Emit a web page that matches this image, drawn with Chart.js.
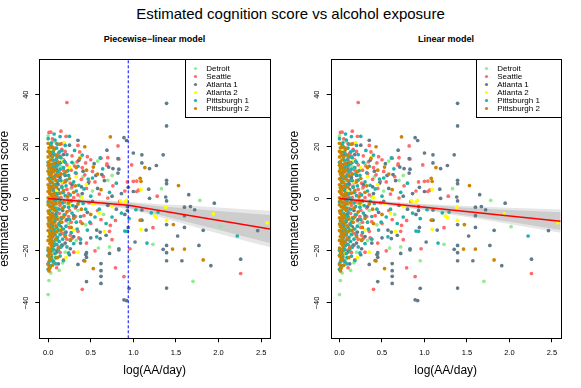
<!DOCTYPE html>
<html>
<head>
<meta charset="utf-8">
<script src="https://cdn.jsdelivr.net/npm/chart.js"></script>
<style>
  html, body { margin:0; padding:0; background:#fff; }
  body { width:581px; height:388px; position:relative; overflow:hidden; font-family:"Liberation Sans", Arial, sans-serif; }
  .t { position:absolute; white-space:nowrap; text-align:center; color:#000; }
  #mainTitle { left:0; width:581px; top:5.6px; font-size:15px; line-height:15px; }
  .sub { top:35px; font-size:9px; line-height:9px; font-weight:bold; }
  canvas { position:absolute; top:0; }
</style>
</head>
<body>
<div id="mainTitle" class="t">Estimated cognition score vs alcohol exposure</div>
<div class="t sub" style="left:39px;width:231px">Piecewise−linear model</div>
<div class="t sub" style="left:331px;width:230px">Linear model</div>
<canvas id="chartLeft" width="290" height="388" style="left:0"></canvas>
<canvas id="chartRight" width="291" height="388" style="left:290px"></canvas>
<script>
const cities = ["Detroit", "Seattle", "Atlanta 1", "Atlanta 2", "Pittsburgh 1", "Pittsburgh 2"];
const cityColors = ["#90EE90", "#FF6A6A", "#607B8B", "#FFFF00", "#20B2AA", "#CD8500"];

// [log(AA/day), score]
const detroit = [[0.0,24.2],[0.0,-36.8],[0.01,-31.4],[0.03,20.0],[0.08,22.0],[0.12,16.0],[0.05,12.5],[0.2,10.5],[0.1,7.0],[0.27,4.0],[0.16,-1.0],[0.35,-4.5],[0.06,-6.5],[0.24,-9.5],[0.44,-10.0],[0.12,-13.0],[0.33,-16.0],[0.04,-18.0],[0.2,-20.5],[0.08,-23.0],[0.52,3.0],[0.65,-6.0],[0.75,9.0],[0.58,14.5],[0.45,-21.5],[0.13,-27.5],[0.59,-18.9],[0.72,-18.5],[0.95,-23.8],[1.23,-17.5],[1.70,-31.7],[1.78,-0.6],[2.02,-10.7],[1.33,3.9],[0.02,2.0],[0.3,13.5],[0.18,-6.2],[0.38,0.8],[0.03,-28.5],[0.70,7.1],
  [0.06,16.8],[0.1,-2.4],[0.14,-8.0],[0.07,-16.0],[0.22,-1.8],[0.15,12.4],[0.05,-10.2],[0.17,-24.6],[0.41,8.4]];
const seattle = [[0.22,37.0],[0.01,25.5],[0.15,26.0],[0.03,25.6],[0.21,24.0],[0.1,21.2],[0.16,21.2],[0.05,23.0],[0.08,19.5],[0.03,17.0],[0.12,17.5],[0.18,15.0],[0.06,14.5],[0.22,13.0],[0.1,12.0],[0.27,11.0],[0.04,10.5],[0.15,9.5],[0.33,9.8],[0.08,8.0],[0.2,7.0],[0.39,7.5],[0.12,5.5],[0.28,4.5],[0.05,3.5],[0.45,4.0],[0.18,2.5],[0.55,6.5],[0.35,1.5],[0.09,0.5],[0.6,1.8],[0.23,-0.5],[0.48,-1.5],[0.14,-2.5],[0.7,0.3],[0.32,-3.5],[0.05,-4.0],[0.58,-4.5],[0.2,-6.0],[0.42,-6.5],[0.1,-7.5],[0.27,-9.0],[0.5,-9.5],[0.03,-10.0],[0.15,-11.5],[0.35,-12.5],[0.08,-14.0],[0.22,-15.5],[0.45,-17.0],[0.12,-18.5],[0.3,-20.5],[0.05,-21.5],[0.18,-23.5],[0.02,-26.0],[0.1,-26.5],[0.25,-11.0],[0.4,12.0],[0.52,10.5],[0.65,8.5],[0.76,5.0],[0.84,-1.0],[0.9,3.0],[0.37,18.0],[0.28,16.5],[0.5,15.0],[0.62,-8.0],[0.72,-12.5],[0.55,-20.0],[0.79,-8.3],[0.73,-10.2],[0.26,-14.0],[0.28,-15.2],[0.46,16.2],[0.62,15.6],[0.70,15.8],[0.83,15.3],[0.82,20.3],[0.98,13.0],[0.69,13.4],[0.69,12.9],[0.93,6.5],[1.04,6.8],[1.0,6.7],[1.04,2.8],[1.06,3.3],[1.28,1.0],[1.23,-11.1],[0.96,-19.2],[2.26,-28.7],[0.89,-29.9],[0.79,-26.5],[0.40,-34.8],[0.75,-15.7],[0.07,1.8],[0.13,-5.6],[0.17,6.2],[0.24,2.0],[0.11,14.2],[0.3,0.5],[0.19,-13.2],[0.09,-19.8],[0.38,-8.8],[0.43,9.2],[0.03,6.4],[0.04,-15.3],[0.16,19.0],[0.35,20.5],
  [0.04,20.2],[0.07,17.2],[0.1,15.4],[0.14,16.4],[0.06,11.2],[0.13,10.2],[0.09,9.4],[0.18,11.0],[0.04,8.2],[0.12,8.6],[0.16,4.8],[0.07,4.2],[0.22,3.6],[0.02,2.4],[0.1,1.2],[0.15,0.6],[0.06,-1.2],[0.19,-1.2],[0.11,-3.8],[0.25,-4.4],[0.04,-6.4],[0.15,-7.2],[0.08,-8.8],[0.21,-8.4],[0.12,-9.6],[0.06,-12.6],[0.16,-13.4],[0.11,-15.8],[0.07,-16.8],[0.17,-17.8],[0.04,-19.2],[0.14,-20.6],[0.07,-24.6],[0.24,-6.8],[0.26,6.0],[0.32,-6.8],[0.34,14.2],[0.2,18.2],[0.07,-20.0],[0.31,12.6],[0.44,13.8],[0.36,-15.0],[0.48,6.6]];
const atlanta1 = [[1.39,36.7],[1.39,28.0],[0.35,22.5],[0.25,20.6],[0.89,23.5],[0.92,22.4],[0.69,18.7],[1.00,17.6],[1.10,16.9],[1.35,16.9],[1.10,13.8],[1.19,11.6],[1.27,12.8],[0.76,11.6],[0.83,11.4],[0.82,15.4],[0.82,9.9],[0.63,9.3],[0.54,13.5],[0.41,10.6],[0.56,9.0],[0.71,12.2],[1.39,7.1],[1.39,5.8],[0.94,4.4],[1.0,2.8],[1.18,3.7],[1.38,0.7],[1.39,-0.8],[1.19,0.2],[1.65,1.6],[1.95,-1.7],[1.60,-3.2],[1.67,-3.0],[1.72,-4.2],[1.10,-4.3],[1.60,-6.5],[1.10,-8.2],[1.39,-9.9],[1.60,-11.0],[1.82,-12.1],[2.46,-12.2],[1.15,-12.0],[0.94,-11.0],[1.52,-14.3],[1.02,-16.6],[1.35,-19.4],[1.39,-17.9],[1.39,-20.7],[1.77,-17.9],[0.83,-19.2],[0.83,-19.6],[1.39,-23.8],[1.57,-23.8],[2.26,-23.2],[1.91,-25.7],[1.39,-34.3],[0.95,-34.4],[0.89,-38.8],[0.92,-39.1],[0.62,-24.9],[0.62,-27.6],[0.62,-29.8],[0.62,-32.5],[0.45,-20.7],[0.45,-22.5],[0.45,-31.8],[0.61,-12.8],[0.61,-15.3],[0.42,-23.7],[0.44,-21.4],[0.35,-25.2],[0.26,-19.2],[0.16,-17.8],[0.01,-26.8],[0.0,-25.0],[0.93,-4.5],[0.93,-3.0],[0.15,14.0],[0.2,9.0],[0.28,5.5],[0.33,-3.0],[0.4,2.0],[0.47,6.0],[0.52,-1.0],[0.58,4.0],[0.66,7.0],[0.7,-2.5],[0.75,1.0],[0.8,-4.0],[0.86,2.0],[0.9,-6.0],[0.22,-8.0],[0.3,-14.5],[0.38,-17.0],[0.5,-15.0],[0.57,-12.0],[0.68,-14.0],[0.07,-21.0],[0.12,-25.0],[0.25,-21.5],[0.2,-17.0],[0.72,-21.0],[0.1,11.0],[0.06,-11.5],[0.17,-4.5],[0.12,3.5],[0.36,14.8],[0.3,-6.5],
  [0.05,16.6],[0.09,13.6],[0.03,4.8],[0.11,5.8],[0.07,-0.2],[0.14,8.2],[0.09,-6.0],[0.04,-9.2],[0.15,-10.8],[0.1,-20.4],[0.21,-12.8],[0.18,17.0],[0.27,-0.8],[0.05,-23.8],[0.39,4.6],[0.46,-5.2]];
const atlanta2 = [[0.19,21.6],[0.03,18.5],[0.25,12.0],[0.1,3.0],[0.33,8.5],[0.06,-9.0],[0.26,-2.2],[0.4,0.5],[0.02,-14.0],[0.45,5.5],[0.6,-5.5],[0.3,-12.0],[0.75,-3.0],[0.85,-0.8],[0.66,-12.5],[0.13,-11.5],[0.08,-21.7],[0.07,-20.8],[0.35,-20.5],[0.53,-2.0],[0.92,-0.6],[0.9,-1.2],[1.09,3.6],[1.38,-3.2],[1.27,-7.2],[1.25,-6.6],[1.39,-8.3],[1.94,-5.8],[2.57,-9.2],[1.09,-11.7],[0.16,6.5],[0.38,16.0],
  [0.05,11.6],[0.11,-7.0],[0.17,14.6],[0.04,-4.4],[0.21,-22.5]];
const pittsburgh1 = [[0.0,14.0],[0.02,8.2],[0.0,-1.2],[0.01,-8.5],[0.03,-13.6],[0.0,-19.8],[0.01,3.1],[0.04,-17.4],[0.0,-21.7],[0.02,-23.0],[0.01,-24.2],[0.03,-25.8],[0.0,-27.1],[0.02,-20.6],[0.04,-22.4],[0.05,-19.0],[0.01,11.8],[0.03,20.7],[0.0,23.1],[0.04,16.4],[0.02,-4.6],[0.05,0.8],[0.03,-10.6],[0.07,24.9],[0.14,23.9],[0.25,24.0],[0.1,19.5],[0.06,18.0],[0.16,18.5],[0.22,17.0],[0.09,15.0],[0.13,13.5],[0.28,14.0],[0.06,12.0],[0.18,12.0],[0.35,12.5],[0.11,10.5],[0.24,9.0],[0.07,8.5],[0.3,6.5],[0.15,7.0],[0.08,5.5],[0.21,5.0],[0.42,3.8],[0.09,2.0],[0.26,1.5],[0.5,1.0],[0.12,0.3],[0.14,-0.5],[0.36,-1.0],[0.06,-2.5],[0.19,-3.0],[0.44,-4.0],[0.1,-5.0],[0.28,-5.5],[0.07,-6.5],[0.55,-7.0],[0.16,-7.5],[0.07,-9.0],[0.33,-9.0],[0.21,-10.5],[0.12,-12.0],[0.46,-12.0],[0.08,-13.5],[0.27,-13.0],[0.17,-15.5],[0.06,-16.5],[0.1,-17.5],[0.38,-15.5],[0.06,-19.5],[0.22,-18.5],[0.14,-22.0],[0.09,-25.0],[0.18,-23.7],[0.08,-21.0],[0.2,20.5],[0.31,18.6],[0.12,16.2],[0.4,16.8],[0.19,14.4],[0.23,10.8],[0.33,3.0],[0.17,2.4],[0.38,-6.8],[0.25,-8.0],[0.13,-10.0],[0.3,-17.2],[0.11,-14.8],[0.24,-20.8],[0.47,7.6],[0.36,5.2],[0.05,4.0],[0.15,-18.6],[0.6,-4.0],[0.68,-9.5],[0.72,2.5],[0.8,6.0],[0.52,8.0],[0.86,-5.5],[0.61,15.7],[0.64,11.5],[0.95,-7.6],[0.9,-12.4],[0.93,-12.5],[1.03,-4.2],[1.21,-5.4],[1.29,-5.1],[1.16,-17.0],[2.22,-14.3],[0.57,-14.6],[0.75,-7.0],
  [0.04,21.5],[0.08,22.6],[0.11,21.0],[0.05,19.8],[0.13,18.0],[0.03,17.8],[0.09,16.8],[0.15,15.8],[0.05,15.0],[0.11,13.0],[0.2,14.0],[0.04,13.2],[0.08,12.4],[0.14,11.4],[0.03,10.0],[0.07,10.8],[0.19,9.6],[0.1,9.2],[0.05,7.6],[0.12,7.0],[0.22,7.2],[0.03,6.2],[0.09,5.0],[0.16,4.4],[0.06,3.2],[0.12,2.0],[0.2,1.2],[0.04,1.6],[0.09,-0.8],[0.17,-1.6],[0.03,-2.8],[0.08,-3.6],[0.13,-4.0],[0.24,-3.2],[0.05,-5.6],[0.1,-6.8],[0.19,-6.2],[0.03,-7.6],[0.08,-8.2],[0.14,-9.0],[0.05,-10.4],[0.1,-11.0],[0.18,-11.6],[0.03,-12.6],[0.07,-12.0],[0.14,-13.8],[0.05,-14.6],[0.09,-15.6],[0.2,-14.0],[0.03,-16.8],[0.07,-18.0],[0.12,-19.6],[0.04,-20.0],[0.09,-22.6],[0.06,-24.0],[0.03,-23.4],[0.13,-16.4],[0.26,-16.0],[0.29,-2.6],[0.32,10.0],[0.41,-1.8],[0.34,-11.6],[0.49,-9.0]];
const pittsburgh2 = [[0,21.3],[0.01,19.6],[0,18.2],[0.02,17.5],[0,16.1],[0.03,15.0],[0.01,14.2],[0,12.9],[0.02,12.1],[0.04,11.4],[0,10.6],[0.01,9.5],[0.03,8.8],[0,7.7],[0.02,6.9],[0.05,6.2],[0,5.4],[0.01,4.3],[0.03,3.6],[0,2.8],[0.02,1.9],[0.04,1.2],[0,0.4],[0.01,-0.6],[0.03,-1.4],[0,-2.3],[0.02,-3.1],[0.05,-3.8],[0,-4.7],[0.01,-5.6],[0.03,-6.4],[0,-7.3],[0.02,-8.0],[0.04,-8.9],[0,-9.7],[0.01,-10.6],[0.03,-11.3],[0,-12.2],[0.02,-13.1],[0.01,-14.5],[0,-16.0],[0.02,-17.2],[0,-18.9],[0.01,-20.4],[0,-22.0],[0.02,-23.6],[0,-25.3],[0.01,-27.7],[0.07,19.0],[0.1,16.5],[0.12,14.0],[0.08,11.0],[0.15,9.5],[0.06,8.0],[0.2,6.5],[0.1,4.5],[0.18,3.2],[0.25,7.8],[0.3,2.5],[0.13,-1.5],[0.08,-4.5],[0.22,-5.0],[0.35,-2.0],[0.3,-7.5],[0.16,-9.0],[0.1,-12.5],[0.27,-11.0],[0.2,-14.5],[0.4,-9.5],[0.05,-16.5],[0.12,-19.0],[0.37,15.5],[0.45,11.0],[0.43,20.0],[0.73,23.8],[0.53,12.2],[0.43,-23.9],[0.53,-26.8],[1.08,7.9],[1.09,6.7],[1.135,12.0],[1.53,5.1],[1.08,-8.2],[1.47,-9.9],[1.46,-19.3],[1.60,-19.3],[1.82,-23.5],[0.58,9.5],[0.5,-6.0],[0.62,3.5],[0.06,-7.2],[0.09,-10.4],[0.07,13.4],[0.11,-22.6],[0.14,21.0],[0.05,-25.5],[0.17,-3.6],[0.23,0.8],[0.32,5.0],[0.26,-15.8],
  [0.04,19.8],[0.05,16.2],[0.03,13.0],[0.06,10.4],[0.04,9.6],[0.06,5.0],[0.04,4.6],[0.07,2.2],[0.05,0.0],[0.06,-2.0],[0.04,-3.0],[0.07,-4.0],[0.05,-6.0],[0.04,-7.6],[0.06,-9.4],[0.05,-11.6],[0.06,-13.2],[0.04,-14.2],[0.03,-15.6],[0.04,-18.0],[0.03,-19.6],[0.02,-21.2],[0.03,-22.8],[0.02,-26.6],[0.08,1.0],[0.09,7.0],[0.11,9.0],[0.09,-1.8],[0.14,2.2],[0.11,-7.8],[0.15,-12.2],[0.09,-15.4],[0.18,-7.0],[0.21,10.4],[0.24,-1.6],[0.33,12.0],[0.39,-4.0]];
const cityPoints = [detroit, seattle, atlanta1, atlanta2, pittsburgh1, pittsburgh2];

const xRange = [-0.104, 2.604];
const yRange = [-53.6, 53.6];
const xTicks = [0, 0.5, 1, 1.5, 2, 2.5];
const yTicks = [-40, -20, 0, 20, 40];

// piecewise-linear fit, knot and bands
const knotX = 0.94;
const pwFitX = [0, 0.94, 2.604];
const pwFitY = [0.1, -2.5, -11.6];
const pwBandX = [0, 0.3, 0.94, 1.3, 1.6, 2.0, 2.3, 2.604];
const pwOuterHi = [1.3, 0.15, -1.1, -2.1, -2.5, -3.3, -4.0, -4.6];
const pwOuterLo = [-1.1, -1.65, -3.9, -6.9, -9.7, -13.3, -16.0, -18.6];
const pwInnerHi = [0.9, -0.15, -1.5, -2.9, -3.6, -4.7, -5.5, -6.2];
const pwInnerLo = [-0.7, -1.35, -3.5, -6.1, -8.6, -11.9, -14.5, -17.0];

// linear fit and bands
const linFitX = [0, 2.604];
const linFitY = [0.1, -8.6];
const linBandX = [0, 0.5, 1.0, 1.5, 2.0, 2.604];
const linOuterHi = [1.0, -0.87, -2.03, -2.8, -3.46, -4.07];
const linOuterLo = [-0.8, -2.27, -4.43, -7.0, -9.66, -13.07];
const linInnerHi = [0.7, -1.07, -2.33, -3.4, -4.26, -5.17];
const linInnerLo = [-0.5, -2.07, -4.13, -6.4, -8.86, -11.97];

const FONT = '"Liberation Sans", Arial, sans-serif';
Chart.defaults.font.family = FONT;
Chart.defaults.color = "#000";

function xy(xs, ys){ return xs.map((x,i)=>({x:x, y:ys[i]})); }
function minus(v){ return v < 0 ? "\u2212" + Math.abs(v) : String(v); }

function band(xs, ys, color, order, fill){
  return { data: xy(xs, ys), showLine:true, pointRadius:0, borderWidth:0, borderColor:"rgba(0,0,0,0)",
    backgroundColor: color, fill: fill, order: order };
}

function makeDatasets(fitX, fitY, bx, oHi, oLo, iHi, iLo, knot){
  const sets = [
    band(bx, oHi, "#E6E6E6", 20, "+1"),
    band(bx, oLo, "#E6E6E6", 20, false),
    band(bx, iHi, "#CDCDCD", 19, "+1"),
    band(bx, iLo, "#CDCDCD", 19, false),
  ];
  cityPoints.forEach((pts, i) => {
    sets.push({ label: cities[i], data: pts.map(p=>({x:p[0], y:p[1]})),
      backgroundColor: cityColors[i], borderWidth:0, pointRadius:1.85, order: 16 - i });
  });
  sets.push({ data: xy(fitX, fitY), showLine:true, pointRadius:0, borderColor:"#FF0000", borderWidth:1.5, fill:false, order:2 });
  if (knot !== null) {
    sets.push({ data: [{x:knot, y:yRange[0]}, {x:knot, y:yRange[1]}], showLine:true, pointRadius:0,
      borderColor:"#0000FF", borderWidth:1, borderDash:[3,2], fill:false, order:1 });
  }
  return sets;
}

const frameAndLegend = {
  id: "frameAndLegend",
  afterDatasetsDraw(chart){
    const {ctx, chartArea:a} = chart;
    const l = Math.round(a.left)+0.5, r = Math.round(a.right)+0.5;
    const t = Math.round(a.top)+0.5, b = Math.round(a.bottom)+0.5;
    ctx.save();
    // legend box
    const lw = 85, lh = 58;
    const lx = r - lw, ly = t;
    ctx.fillStyle = "#fff";
    ctx.fillRect(lx, ly, lw, lh);
    ctx.strokeStyle = "#000"; ctx.lineWidth = 1;
    ctx.strokeRect(lx, ly, lw, lh);
    ctx.font = "8px " + FONT;
    ctx.textBaseline = "middle";
    ctx.textAlign = "left";
    cities.forEach((c, i) => {
      const y = ly + 9 + i*8;
      ctx.fillStyle = cityColors[i];
      ctx.beginPath(); ctx.arc(lx + 10, y, 1.6, 0, Math.PI*2); ctx.fill();
      ctx.fillStyle = "#000";
      ctx.fillText(c, lx + 20.7, y);
    });
    // plot frame
    ctx.strokeStyle = "#000";
    ctx.strokeRect(l, t, r - l, b - t);
    ctx.restore();
  }
};

function makeChart(canvas, yWidth, padRight, datasets){
  return new Chart(canvas, {
    type: "scatter",
    data: { datasets: datasets },
    options: {
      responsive:false, maintainAspectRatio:false, devicePixelRatio:1,
      animation:false, events:[],
      layout: { padding: { top:59.3, right:padRight, bottom:0, left:0 } },
      plugins: { legend:{display:false}, tooltip:{enabled:false}, title:{display:false} },
      scales: {
        x: { type:"linear", min:xRange[0], max:xRange[1],
          afterBuildTicks: s => { s.ticks = xTicks.map(v=>({value:v})); },
          afterFit: s => { s.height = 49.7; },
          ticks: { callback: v => Number(v).toFixed(1), font:{size:7.5}, color:"#000", padding:6, autoSkip:false, maxRotation:0 },
          grid: { display:true, drawOnChartArea:false, drawTicks:true, tickLength:4, color:"#000" },
          border: { display:false },
          title: { display:true, text:"log(AA/day)", font:{size:12}, color:"#000", padding:{top:0, bottom:9.8} }
        },
        y: { type:"linear", min:yRange[0], max:yRange[1],
          afterBuildTicks: s => { s.ticks = yTicks.map(v=>({value:v})); },
          afterFit: s => { s.width = yWidth; },
          ticks: { callback: v => minus(v), font:{size:7.5}, color:"#000", padding:3, autoSkip:false,
            minRotation:90, maxRotation:90, crossAlign:"center" },
          grid: { display:true, drawOnChartArea:false, drawTicks:true, tickLength:4, color:"#000" },
          border: { display:false },
          title: { display:true, text:"estimated cognition score", font:{size:12, lineHeight:0.8}, color:"#000", padding:{top:0, bottom:0} }
        }
      }
    },
    plugins: [frameAndLegend]
  });
}

makeChart(document.getElementById("chartLeft"), 39.3, 20,
  makeDatasets(pwFitX, pwFitY, pwBandX, pwOuterHi, pwOuterLo, pwInnerHi, pwInnerLo, knotX));
makeChart(document.getElementById("chartRight"), 40.7, 20.3,
  makeDatasets(linFitX, linFitY, linBandX, linOuterHi, linOuterLo, linInnerHi, linInnerLo, null));
</script>
</body>
</html>
